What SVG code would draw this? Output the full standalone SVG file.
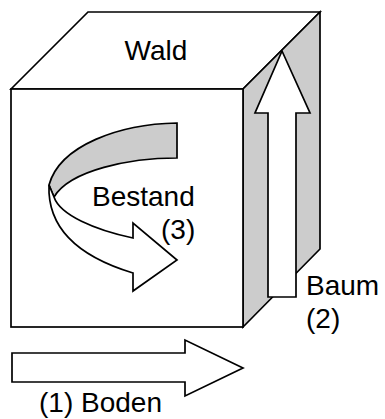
<svg xmlns="http://www.w3.org/2000/svg" width="385" height="419" viewBox="0 0 385 419">
<style>
.s{stroke:#000;stroke-width:1.7;stroke-linejoin:miter}
.w{fill:#fff}
.g{fill:#cccccc}
text{font-family:"Liberation Sans",Arial,sans-serif;font-size:28px;fill:#000}
</style>
<rect width="385" height="419" fill="#fff"/>
<g id="cube">
<polygon class="s w" points="11,89 88,12 320,12 243,89"/>
<polygon class="s g" points="243,89 320,12 320,249 243,327"/>
<rect class="s w" x="11" y="89" width="232" height="238"/>
<text x="156" y="60" text-anchor="middle">Wald</text>
</g>
<g id="bestand">
<path class="s g" d="M177,123 C120,124 60,145 49,185 L54,197 C70,170 130,158 177,158 Z"/>
<path class="s w" d="M49,185 C47,235 90,260 133,273 L133,291 L177,260 L133,223 L133,238 C95,230 60,215 54,197 Z"/>
<text x="92" y="206">Bestand</text>
<text x="161" y="239">(3)</text>
</g>
<g id="baum">
<polygon class="s w" points="268,297 268,113 255,113 282,51 310,113 296,113 296,297"/>
<text x="306" y="295">Baum</text>
<text x="306" y="328">(2)</text>
</g>
<g id="boden">
<polygon class="s w" points="12,353 185,353 185,340 243,368 185,396 185,382 12,382"/>
<text x="39" y="412">(1) Boden</text>
</g>
</svg>
